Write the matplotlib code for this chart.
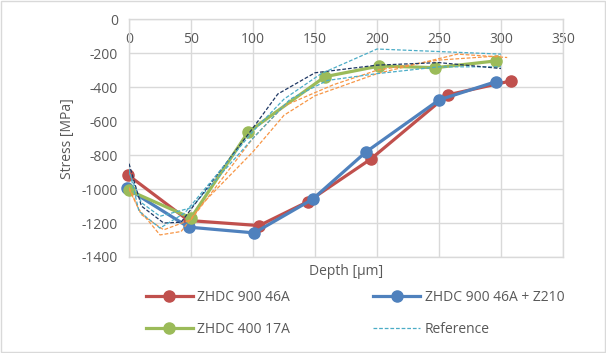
import matplotlib
matplotlib.use("Agg")
import matplotlib.pyplot as plt
from matplotlib.lines import Line2D
from matplotlib.patches import Rectangle

plt.rcParams['font.family'] = ['Open Sans', 'DejaVu Sans']

# ---- data ----
red_x = [-1, 48, 105, 144, 195, 257, 308]
red_y = [-916, -1185, -1215, -1075, -823, -445, -363]
blue_x = [-2, 48, 101, 148, 191, 250, 296]
blue_y = [-995, -1224, -1258, -1060, -782, -475, -367]
green_x = [0, 50, 96, 158, 202, 247, 296]
green_y = [-1008, -1170, -665, -338, -275, -285, -245]

ref_navy_x = [0, 10, 28, 42, 100, 120, 150, 200, 250, 300]
ref_navy_y = [-850, -1100, -1200, -1195, -640, -440, -315, -270, -255, -290]
ref_teal_x = [0, 8, 25, 45, 100, 125, 155, 200, 250, 300]
ref_teal_y = [-880, -1130, -1230, -1140, -660, -470, -320, -175, -190, -205]
ref_teal2_x = [0, 10, 25, 50, 100, 130, 160, 200, 250, 300]
ref_teal2_y = [-900, -1080, -1160, -1110, -700, -470, -360, -320, -280, -280]
ref_orange_x = [0, 8, 25, 42, 60, 100, 125, 150, 200, 265, 305]
ref_orange_y = [-990, -1120, -1270, -1250, -1080, -780, -565, -450, -320, -205, -225]
ref_orange2_x = [0, 10, 28, 50, 100, 125, 165, 200, 250, 300]
ref_orange2_y = [-1000, -1150, -1240, -1180, -700, -510, -385, -300, -240, -215]

x_ticks = [0, 50, 100, 150, 200, 250, 300, 350]
y_ticks = [0, -200, -400, -600, -800, -1000, -1200, -1400]

labels = ["ZHDC 900 46A", "ZHDC 900 46A + Z210", "ZHDC 400 17A", "Reference"]

C_RED = "#C0504D"
C_BLUE = "#4F81BD"
C_GREEN = "#9BBB59"
C_TEAL = "#4BACC6"
C_NAVY = "#1F3864"
C_ORANGE = "#F79646"
TXT = "#595959"
GRID = "#D9D9D9"

fig = plt.figure(figsize=(6.06, 3.53), dpi=100)
ax = fig.add_axes([129/606, 1-257/353, (563-129)/606, (257-19.3)/353])

lw = 2.3
ms = 8
ax.plot(red_x, red_y, color=C_RED, lw=lw, marker='o', ms=ms, zorder=3, clip_on=False)
ax.plot(blue_x, blue_y, color=C_BLUE, lw=lw, marker='o', ms=ms, zorder=4, clip_on=False)
ax.plot(green_x, green_y, color=C_GREEN, lw=lw, marker='o', ms=ms, zorder=5, clip_on=False)

dash = (0, (3, 1.5))
rlw = 0.9
ax.plot(ref_orange_x, ref_orange_y, color=C_ORANGE, lw=rlw, ls=dash, zorder=6)
ax.plot(ref_orange2_x, ref_orange2_y, color=C_ORANGE, lw=rlw, ls=dash, zorder=6)
ax.plot(ref_teal2_x, ref_teal2_y, color=C_TEAL, lw=rlw, ls=dash, zorder=6)
ax.plot(ref_navy_x, ref_navy_y, color=C_NAVY, lw=rlw, ls=dash, zorder=6)
ax.plot(ref_teal_x, ref_teal_y, color=C_TEAL, lw=rlw, ls=dash, zorder=6)

ax.set_xlim(0, 350)
ax.set_ylim(-1400, 0)
ax.set_xticks(x_ticks)
ax.set_yticks(y_ticks)
ax.set_xticklabels([str(v) for v in x_ticks])
ax.set_yticklabels([str(v) for v in y_ticks])
ax.grid(True, color=GRID, lw=1.0, zorder=0)
ax.set_axisbelow(True)
for s in ax.spines.values():
    s.set_color(GRID)
    s.set_linewidth(1.0)

ax.xaxis.set_ticks_position('top')
ax.tick_params(axis='x', which='both', length=0, labeltop=True, labelbottom=False,
               pad=-9, labelsize=10, labelcolor=TXT)
ax.tick_params(axis='y', length=0, pad=8, labelsize=10, labelcolor=TXT)
for t in ax.get_xticklabels():
    t.set_verticalalignment('top')

ax.set_xlabel("Depth [µm]", fontsize=10, color=TXT, labelpad=5)
ax.set_ylabel("Stress [MPa]", fontsize=10, color=TXT, labelpad=5)

handles = [
    Line2D([], [], color=C_RED, lw=lw, marker='o', ms=ms),
    Line2D([], [], color=C_GREEN, lw=lw, marker='o', ms=ms),
    Line2D([], [], color=C_BLUE, lw=lw, marker='o', ms=ms),
    Line2D([], [], color=C_TEAL, lw=rlw, ls=dash),
]
hl = [labels[0], labels[2], labels[1], labels[3]]
leg = fig.legend(handles, hl, ncol=2, loc='upper left', bbox_to_anchor=(140/606, 1-284/353),
                 frameon=False, fontsize=10, handlelength=3.4, columnspacing=6.0,
                 labelspacing=1.25, handletextpad=0.3, borderaxespad=0)
for t in leg.get_texts():
    t.set_color(TXT)

fig.patches.append(Rectangle((0.002, 0.004), 0.996, 0.992, transform=fig.transFigure,
                             fill=False, edgecolor=GRID, lw=1.0))

fig.savefig("out.png", dpi=100)
